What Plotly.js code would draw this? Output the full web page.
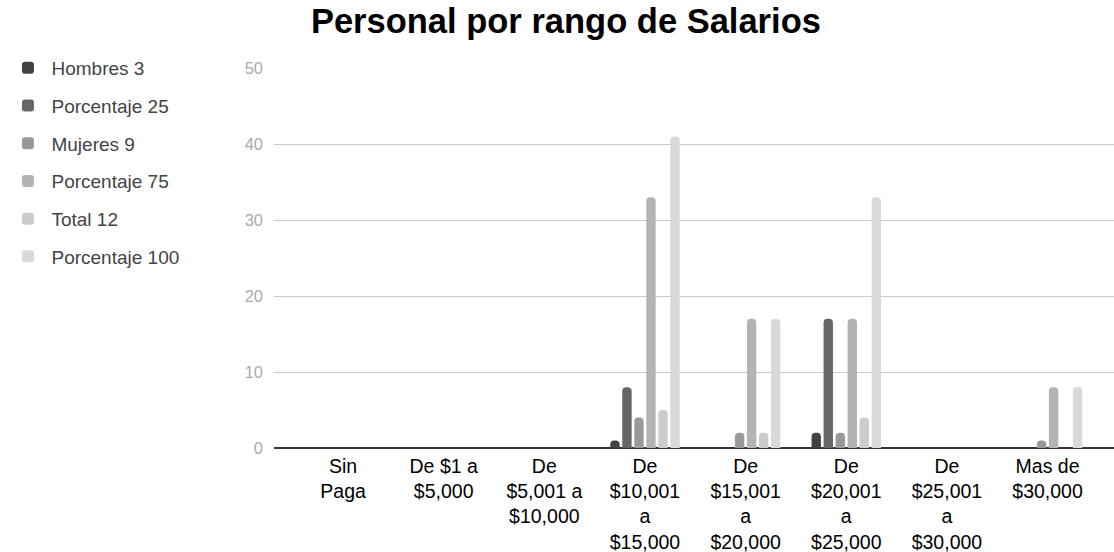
<!DOCTYPE html>
<html>
<head>
<meta charset="utf-8">
<script src="https://cdn.plot.ly/plotly-3.0.1.min.js"></script>
<style>html,body{margin:0;padding:0;background:#fff;}#chart{width:1114px;height:552px;}</style>
</head>
<body>
<div id="chart"></div>
<script>
const categories = [
  "Sin<br>Paga",
  "De $1 a<br>$5,000",
  "De<br>$5,001 a<br>$10,000",
  "De<br>$10,001<br>a<br>$15,000",
  "De<br>$15,001<br>a<br>$20,000",
  "De<br>$20,001<br>a<br>$25,000",
  "De<br>$25,001<br>a<br>$30,000",
  "Mas de<br>$30,000"
];
const hombres3      = [0, 0, 0, 1, 0, 2, 0, 0];
const porcentaje25  = [0, 0, 0, 8, 0, 17, 0, 0];
const mujeres9      = [0, 0, 0, 4, 2, 2, 0, 1];
const porcentaje75  = [0, 0, 0, 33, 17, 17, 0, 8];
const total12       = [0, 0, 0, 5, 2, 4, 0, 0];
const porcentaje100 = [0, 0, 0, 41, 17, 33, 0, 8];
const seriesNames = ["Hombres 3", "Porcentaje 25", "Mujeres 9", "Porcentaje 75", "Total 12", "Porcentaje 100"];
const seriesValues = [hombres3, porcentaje25, mujeres9, porcentaje75, total12, porcentaje100];
const seriesColors = ["#424242", "#666666", "#999999", "#b3b3b3", "#cccccc", "#d9d9d9"];
const yTicks = [0, 10, 20, 30, 40, 50];

const xIdx = categories.map((c, i) => i);
const traces = seriesNames.map((name, i) => ({
  type: "bar",
  name: name,
  x: xIdx,
  y: seriesValues[i],
  marker: {color: seriesColors[i], line: {width: 0}},
  legendgroup: "g" + i,
  hoverinfo: "y+name"
}));

const FONT = "Liberation Sans, Arial, sans-serif";
const layout = {
  width: 1114, height: 552,
  paper_bgcolor: "#ffffff", plot_bgcolor: "#ffffff",
  font: {family: FONT, color: "#000"},
  title: {
    text: "<b>Personal por rango de Salarios</b>",
    font: {size: 34.5, color: "#000", family: FONT},
    xref: "container", yref: "container", x: 0.508, xanchor: "center",
    y: 0.962, yanchor: "middle"
  },
  margin: {l: 274, r: 0, t: 68, b: 104, pad: 0},
  barmode: "group",
  bargap: 0.284,
  bargroupgap: 0.22,
  barcornerradius: 4,
  showlegend: true,
  legend: {
    xref: "container", yref: "container",
    x: 0.004, xanchor: "left",
    y: 1 - 49/552, yanchor: "top",
    font: {size: 19, color: "#444444", family: FONT},
    tracegroupgap: 10,
    traceorder: "grouped",
    itemwidth: 37,
    bgcolor: "rgba(0,0,0,0)"
  },
  xaxis: {
    type: "linear",
    range: [-0.686, 7.66],
    tickmode: "array",
    tickvals: xIdx,
    ticktext: categories,
    showgrid: false,
    zeroline: false,
    showline: false,
    ticks: "",
    ticklabelstandoff: 4,
    tickfont: {size: 19.5, color: "#000"},
    fixedrange: true
  },
  yaxis: {
    range: [0, 50],
    tickmode: "array",
    tickvals: yTicks,
    ticktext: yTicks.map(String),
    showgrid: true,
    gridcolor: "#cccccc",
    gridwidth: 1,
    zeroline: true,
    zerolinecolor: "#333333",
    zerolinewidth: 2,
    ticks: "",
    ticklabelstandoff: 10,
    tickfont: {size: 16.5, color: "#aaaaaa"},
    fixedrange: true
  }
};

Plotly.newPlot("chart", traces, layout, {displayModeBar: false});
</script>
</body>
</html>
